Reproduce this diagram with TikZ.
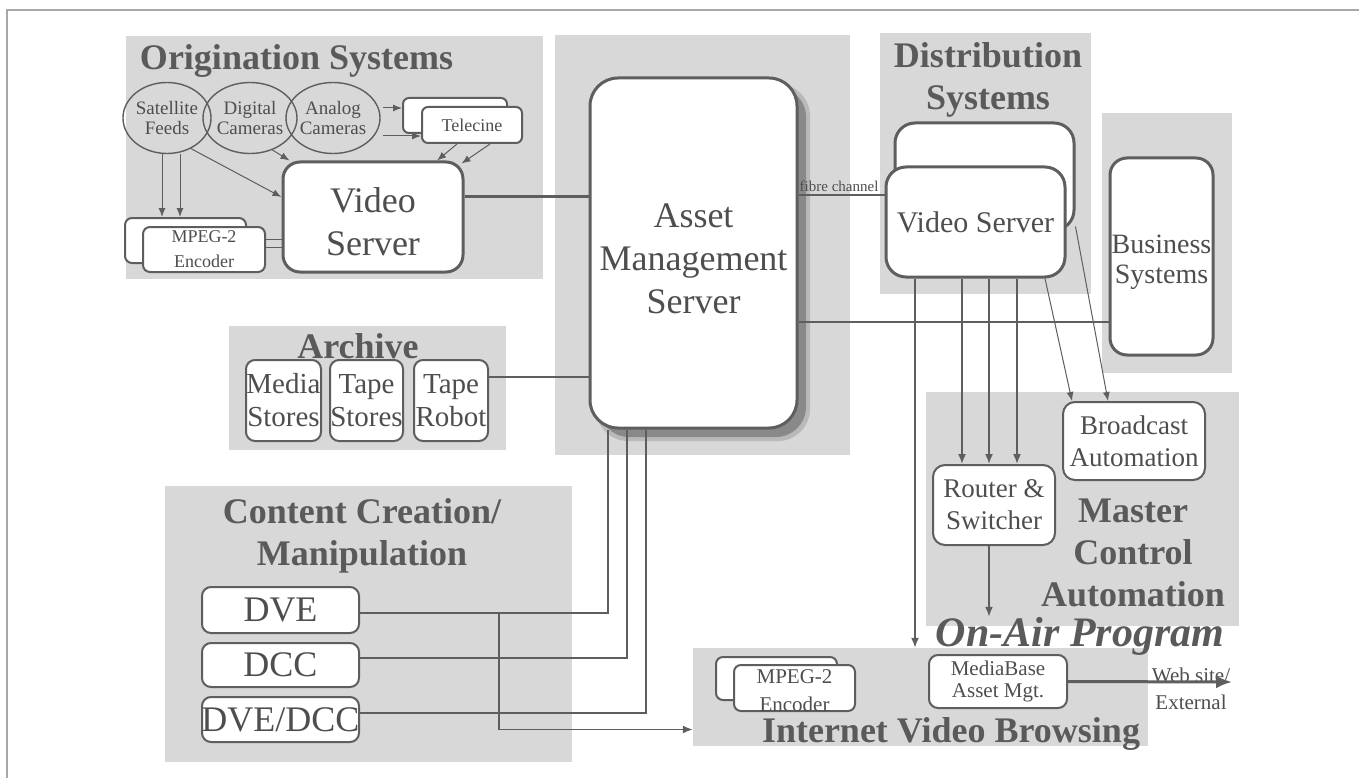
\documentclass[tikz,border=0pt]{standalone}
\usepackage{fontspec}
\setmainfont{Liberation Serif}
\usetikzlibrary{arrows.meta,shapes.geometric}
\definecolor{panelgray}{HTML}{D8D8D8}
\definecolor{ink}{HTML}{4E4E4E}
\definecolor{wirecol}{HTML}{5E5E5E}
\definecolor{titleink}{HTML}{5A5A5A}
\definecolor{framecol}{HTML}{A8A8A8}
\newcommand\fsz[2]{\fontsize{#1}{#2}\selectfont}
% lower a centred block of lines by #1 while keeping its box size
\newcommand\lowerlines[3]{\raisebox{-#1}[\height][\depth]{\parbox{#2}{\centering #3}}}

\begin{document}
\begin{tikzpicture}[x=1pt,y=-1pt,
  panel/.style={fill=panelgray,draw=none,inner sep=0,rectangle},
  title/.style={font=\bfseries\fsz{36}{42},text=titleink,align=center,inner sep=0},
  box/.style={draw=wirecol,fill=white,rounded corners=9pt,line width=2pt,inner sep=0,align=center,text=ink},
  bigbox/.style={box,line width=3pt,rounded corners=17pt},
  oval/.style={ellipse,draw=wirecol,line width=1.4pt,inner sep=0,align=center,text=ink,font=\fsz{19}{20}},
  link/.style={draw=wirecol,line width=1.6pt},
  arr/.style={link,-{Latex[length=10pt,width=8pt]}},
  thinarr/.style={draw=wirecol,line width=1pt,-{Latex[length=9pt,width=7pt]}},
]
\useasboundingbox (0,0) rectangle (1359,778);
\fill[white] (0,0) rectangle (1359,778);
% page frame
\draw[framecol,line width=1.2pt] (7,778) -- (7,10) -- (1359,10);

% ---------- grey panels ----------
\node[panel,minimum width=417pt,minimum height=243pt] (origP) at (334.5,157.5) {};
\node[panel,minimum width=295pt,minimum height=420pt] (assetP) at (702.5,245) {};
\node[panel,minimum width=211pt,minimum height=260pt] (distP) at (985.5,163.5) {};
\node[panel,minimum width=130pt,minimum height=260pt] (busP) at (1166.5,243) {};
\node[panel,minimum width=277pt,minimum height=124pt] (archP) at (367.5,388) {};
\node[panel,minimum width=407pt,minimum height=276pt] (contP) at (368.5,624) {};
\node[panel,minimum width=313pt,minimum height=234pt] (mcP) at (1082.5,509) {};
\node[panel,minimum width=455pt,minimum height=98pt] (inetP) at (920.5,697) {};

% ---------- panel titles ----------
\node[title] (origT) at (296.5,61) {Origination Systems};
\node[title] (distT) at (988,80) {Distribution\\Systems};
\node[title] (archT) at (358,346) {Archive};
\node[title] (contT) at (362,536) {Content Creation/\\Manipulation};
\node[title] (mcT) at (1133,553) {Master\\Control\\Automation};
\node[title] (inetT) at (951,734) {Internet Video Browsing};
\node[title,font=\bfseries\itshape\fsz{42}{44}] (onair) at (1080,636) {On-Air Program};

% ---------- origination systems ----------
\node[oval,minimum width=82pt,minimum height=71pt] (sat) at (167,118) {Satellite\\Feeds};
\node[oval,minimum width=84pt,minimum height=71pt] (dig) at (250,118) {Digital\\Cameras};
\node[oval,minimum width=84pt,minimum height=71pt] (ana) at (333,118) {Analog\\Cameras};
\node[box,minimum width=104pt,minimum height=35pt,rounded corners=6pt] (telB) at (455,115.5) {};
\node[box,minimum width=100pt,minimum height=36pt,rounded corners=6pt,font=\fsz{18}{20}] (telF) at (472,125) {Telecine};
\node[bigbox,minimum width=180pt,minimum height=110pt,font=\fsz{36}{43}] (vsO) at (373,217) {\lowerlines{5pt}{170pt}{Video\\Server}};
\node[box,minimum width=121pt,minimum height=45pt,rounded corners=7pt] (encB) at (185.5,240.5) {};
\node[box,minimum width=122pt,minimum height=45pt,rounded corners=7pt,font=\fsz{18}{25}] (encF) at (204,249.5) {MPEG-2\\Encoder};

% ---------- asset management server ----------
\fill[black,opacity=0.14,rounded corners=32pt] (596,84) rectangle (810,441);
\fill[black,opacity=0.26,rounded corners=30pt] (599,87) rectangle (806,437);
\node[bigbox,minimum width=207pt,minimum height=350pt,rounded corners=28pt,font=\fsz{36}{43}] (asset) at (693.5,253) {\lowerlines{6pt}{200pt}{Asset\\Management\\Server}};

% ---------- distribution systems ----------
\node[bigbox,minimum width=179pt,minimum height=107pt,rounded corners=20pt] (vsDB) at (984.5,176.5) {};
\node[bigbox,minimum width=179pt,minimum height=110pt,rounded corners=20pt,font=\fsz{30}{34}] (vsD) at (975.5,222) {Video Server};
\node[bigbox,minimum width=103pt,minimum height=197pt,rounded corners=17pt,font=\fsz{28}{30}] (bus) at (1161.5,256.5) {\lowerlines{6pt}{100pt}{Business\\Systems}};

% ---------- archive ----------
\node[box,minimum width=75pt,minimum height=81pt,font=\fsz{29}{33}] (media) at (283.5,400.5) {Media\\Stores};
\node[box,minimum width=73pt,minimum height=81pt,font=\fsz{29}{33}] (tstore) at (366.5,400.5) {Tape\\Stores};
\node[box,minimum width=74pt,minimum height=81pt,font=\fsz{29}{33}] (robot) at (451,400.5) {Tape\\Robot};

% ---------- content creation ----------
\node[box,minimum width=157pt,minimum height=46pt,font=\fsz{36}{40}] (dve) at (280.5,610) {DVE};
\node[box,minimum width=157pt,minimum height=44pt,font=\fsz{36}{40}] (dcc) at (280.5,665) {DCC};
\node[box,minimum width=157pt,minimum height=45pt,font=\fsz{36}{40}] (dvedcc) at (280.5,719.5) {\makebox[157pt][c]{DVE/DCC}};

% ---------- master control ----------
\node[box,minimum width=122pt,minimum height=80pt,rounded corners=12pt,font=\fsz{27}{32}] (router) at (994,505) {Router \&\\Switcher};
\node[box,minimum width=142pt,minimum height=78pt,rounded corners=12pt,font=\fsz{27}{32}] (bcast) at (1134,441) {Broadcast\\Automation};

% ---------- internet video browsing ----------
\node[box,minimum width=121pt,minimum height=43pt,rounded corners=7pt] (encIB) at (776.5,678.5) {};
\node[box,minimum width=121pt,minimum height=46pt,rounded corners=7pt,font=\fsz{21}{28}] (encI) at (794.5,688) {\lowerlines{3pt}{110pt}{MPEG-2\\Encoder}};
\node[box,minimum width=138pt,minimum height=53pt,rounded corners=9pt,font=\fsz{21}{22}] (mbase) at (998,681.5) {MediaBase\\Asset Mgt.};
\node[inner sep=0,text=ink,font=\fsz{21}{27},align=center] (web) at (1191,689) {Web site/\\External};
\coordinate (webend) at (1232,682);

% ---------- connectors: origination ----------
\draw[thinarr] ([xshift=-5pt]sat.south) -- ([xshift=-5pt]sat.south |- encB.north);
\draw[thinarr] ([xshift=13pt]sat.south) -- ([xshift=13pt]sat.south |- encB.north);
\draw[thinarr] (sat.-52) -- ([yshift=20pt]vsO.west);
\draw[thinarr] (dig.-55) -- ([xshift=8pt]vsO.north west);
\coordinate (anaA) at ([yshift=10pt,xshift=2pt]ana.east);
\coordinate (anaB) at ([yshift=-18pt,xshift=2pt]ana.east);
\draw[thinarr] (anaA) -- (anaA -| telB.west);
\draw[thinarr] (anaB) -- (anaB -| telF.west);
\draw[thinarr] ([xshift=-15pt]telF.south) -- ([xshift=64pt]vsO.north);
\draw[thinarr] ([xshift=18pt]telF.south) -- ([xshift=-3pt,yshift=-3pt]vsO.north east);
\coordinate (encA) at ([yshift=10pt]encF.east);
\coordinate (encC) at ([yshift=2pt]encF.east);
\draw[link,line width=1.2pt] (encA) -- (encA -| vsO.west);
\draw[link,line width=1.2pt] (encC) -- (encC -| vsO.west);
\coordinate (vsOa) at ([yshift=20pt]vsO.east);
\draw[link,line width=3pt] (vsOa) -- (vsOa -| asset.west);

% ---------- connectors: asset server ----------
\coordinate (robA) at ([yshift=23.5pt]robot.east);
\draw[link] (robA) -- (robA -| asset.west);
\coordinate (fib) at ([yshift=58pt]asset.east);
\draw[link,line width=2.2pt] (fib) -- (fib -| vsD.west);
\node[inner sep=0,text=ink,font=\fsz{15}{15},anchor=south west] (fibL) at ([xshift=1pt,yshift=3pt]fib) {fibre channel};
\coordinate (busA) at ([yshift=-69pt]asset.east);
\draw[link] (busA) -- (busA -| bus.west);

\draw[link] ([yshift=-3pt]dve.east) -| ([xshift=-85.5pt]asset.south);
\draw[link] ([yshift=7pt]dcc.east) -| ([xshift=-66.5pt]asset.south);
\draw[link] ([yshift=6.5pt]dvedcc.east) -| ([xshift=-47.5pt]asset.south);
\coordinate (br) at ([yshift=-3pt,xshift=139pt]dve.east);
\draw[arr] (br) |- ([yshift=-32.5pt]inetP.west);

% ---------- connectors: distribution ----------
\draw[arr] ([xshift=-60.5pt]vsD.south) -- ([xshift=-60.5pt]vsD.south |- inetP.north);
\draw[arr] ([xshift=-13.5pt]vsD.south) -- ([xshift=-13.5pt]vsD.south |- router.north);
\draw[arr] ([xshift=13.5pt]vsD.south) -- ([xshift=13.5pt]vsD.south |- router.north);
\draw[arr] ([xshift=41.5pt]vsD.south) -- ([xshift=41.5pt]vsD.south |- router.north);
\draw[thinarr] ([xshift=69.5pt]vsD.south) -- ([xshift=10pt]bcast.north west);
\draw[thinarr] ([yshift=-50pt]vsDB.east) -- ([xshift=-26pt]bcast.north);
\draw[arr] ([xshift=-5pt]router.south) -- ([xshift=-5pt]router.south |- onair.north);
\draw[link,line width=3pt,-{Latex[length=16pt,width=13pt]}] (mbase.east) -- (webend);
\end{tikzpicture}
\end{document}
